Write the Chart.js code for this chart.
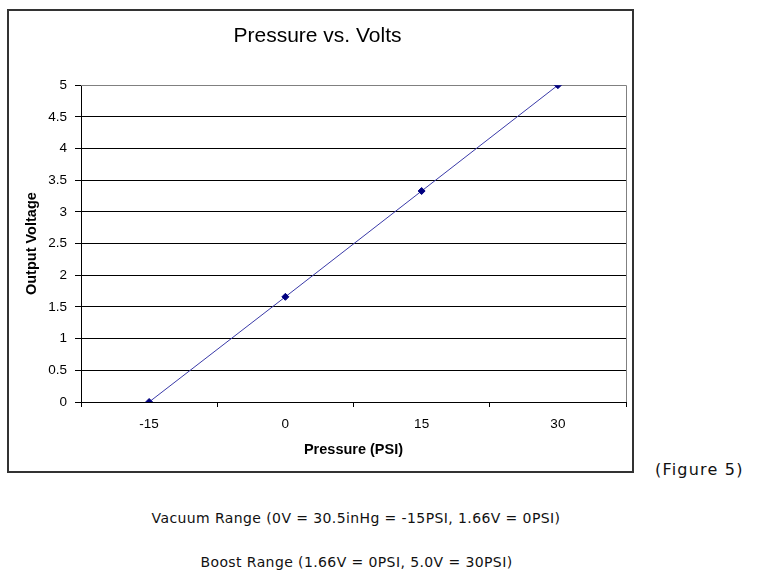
<!DOCTYPE html>
<html>
<head>
<meta charset="utf-8">
<script src="https://cdn.jsdelivr.net/npm/chart.js@4"></script>
<style>
    body { margin: 0; background: #fff; width: 759px; height: 586px; position: relative; overflow: hidden; }
    #frame { position: absolute; left: 7px; top: 9px; width: 623px; height: 460px; border: 2px solid #333; }
    #frame canvas { display: block; }
    .note { position: absolute; font-family: "DejaVu Sans", Verdana, sans-serif; color: #111; white-space: nowrap; }
    #fig { left: 655px; top: 460px; font-size: 16px; letter-spacing: 1.2px; }
    #vac { left: 0; width: 712px; text-align: center; top: 510px; font-size: 14px; letter-spacing: 0.4px; }
    #boost { left: 0; width: 713px; text-align: center; top: 554px; font-size: 14px; letter-spacing: 0.4px; }
</style>
</head>
<body>

<div id="frame"><canvas id="voltChart" width="623" height="460"></canvas></div>
<div class="note" id="fig">(Figure 5)</div>
<div class="note" id="vac">Vacuum Range (0V = 30.5inHg = -15PSI, 1.66V = 0PSI)</div>
<div class="note" id="boost">Boost Range (1.66V = 0PSI, 5.0V = 30PSI)</div>

<script>
// ===============================
// DATA
// ===============================
const pressureLabels = ["-15", "0", "15", "30"];
const voltageValues = [0, 1.66, 3.33, 5];
const voltTicks = [0, 0.5, 1, 1.5, 2, 2.5, 3, 3.5, 4, 4.5, 5];

const axisFont = { family: "'Liberation Sans', Arial, sans-serif", size: 13.5 };
const titleFont = { family: "'Liberation Sans', Arial, sans-serif", size: 14.5, weight: "bold" };


// ===============================
// PLOT BORDER (top + right, gray like Excel)
// ===============================
const plotBorder = {
    id: "plotBorder",
    beforeDatasetsDraw(chart) {
        const { ctx, chartArea: a } = chart;
        ctx.save();
        ctx.strokeStyle = "#808080";
        ctx.lineWidth = 1;
        ctx.beginPath();
        ctx.moveTo(a.left, Math.round(a.top) + 0.5);
        ctx.lineTo(Math.round(a.right) + 0.5, Math.round(a.top) + 0.5);
        ctx.lineTo(Math.round(a.right) + 0.5, a.bottom);
        ctx.stroke();
        ctx.restore();
    }
};


// ===============================
// CHART
// ===============================
const ctx = document.getElementById("voltChart").getContext("2d");

new Chart(ctx, {
    type: "line",
    data: {
        labels: pressureLabels,
        datasets: [{
            data: voltageValues,
            borderColor: "#3a3aa8",
            borderWidth: 1,
            pointStyle: "rectRot",
            pointRadius: 3.5,
            pointBackgroundColor: "#000080",
            pointBorderColor: "#000080",
            pointBorderWidth: 1,
            tension: 0
        }]
    },
    options: {
        responsive: false,
        animation: false,
        layout: { padding: { left: 0, right: 6, top: 0, bottom: 0 } },
        plugins: {
            legend: { display: false },
            tooltip: { enabled: false },
            title: {
                display: true,
                text: "Pressure vs. Volts",
                color: "#000",
                font: { family: "'Liberation Sans', Arial, sans-serif", size: 21, weight: "normal" },
                padding: { top: 13, bottom: 36 }
            }
        },
        scales: {
            x: {
                type: "category",
                offset: true,
                afterFit(scale) { scale.height = 69; },
                grid: { offset: true, drawOnChartArea: false, tickLength: 5, tickColor: "#000" },
                border: { color: "#000", width: 1 },
                ticks: { color: "#000", font: axisFont, padding: 9, maxRotation: 0 },
                title: {
                    display: true,
                    text: "Pressure (PSI)",
                    color: "#000",
                    font: titleFont,
                    padding: { top: 0, bottom: 12 }
                }
            },
            y: {
                min: 0,
                max: 5,
                afterFit(scale) { scale.width = 72; },
                afterBuildTicks(scale) { scale.ticks = voltTicks.map(v => ({ value: v })); },
                grid: {
                    color: c => (c.tick && c.tick.value === 5 ? "#808080" : "#000"),
                    tickColor: "#000",
                    tickLength: 6,
                    lineWidth: 1
                },
                border: { color: "#000", width: 1 },
                ticks: {
                    color: "#000",
                    font: axisFont,
                    padding: 8,
                    callback: v => String(v)
                },
                title: {
                    display: true,
                    text: "Output Voltage",
                    color: "#000",
                    font: titleFont,
                    padding: { top: 14, bottom: 0 }
                }
            }
        }
    },
    plugins: [plotBorder]
});
</script>
</body>
</html>
